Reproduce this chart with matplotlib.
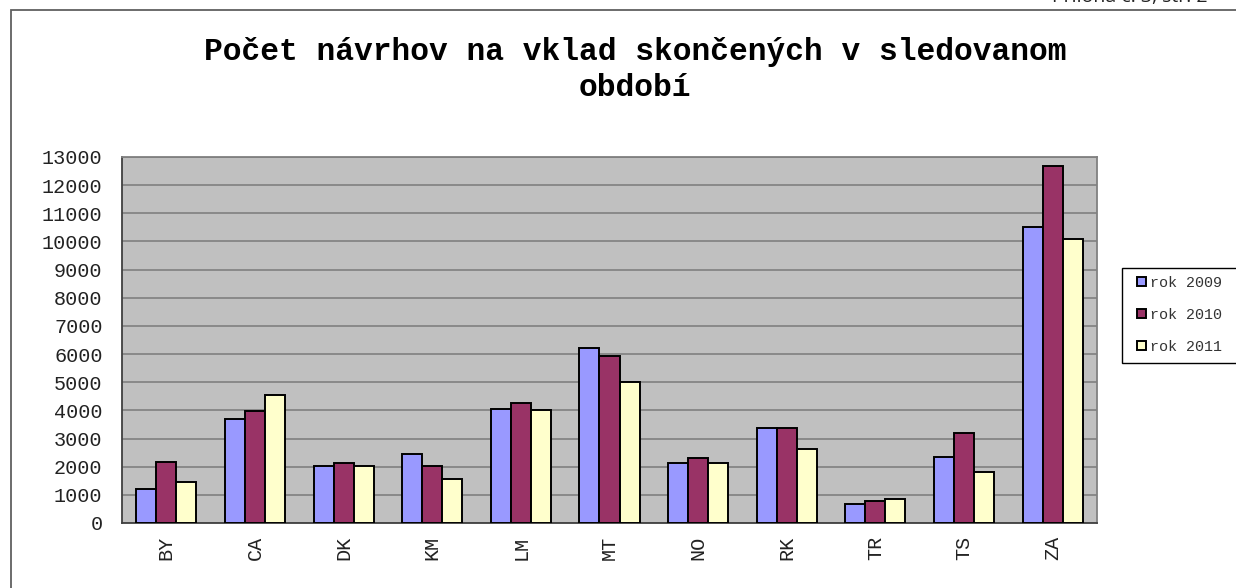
import matplotlib
matplotlib.use("Agg")
import matplotlib.pyplot as plt
import numpy as np
from matplotlib.patches import Rectangle

categories = ["BY", "CA", "DK", "KM", "LM", "MT", "NO", "RK", "TR", "TS", "ZA"]
rok_2009 = [1200, 3680, 2020, 2450, 4040, 6220, 2140, 3370, 680, 2350, 10500]
rok_2010 = [2180, 3980, 2140, 2020, 4260, 5930, 2300, 3390, 790, 3210, 12680]
rok_2011 = [1470, 4540, 2020, 1550, 4000, 5000, 2140, 2620, 860, 1810, 10070]
series_names = ["rok 2009", "rok 2010", "rok 2011"]
colors = ["#9999FF", "#993366", "#FFFFCC"]
yticks = list(range(0, 13001, 1000))
title = "Počet návrhov na vklad skončených v sledovanom\nobdobí"
header = "Príloha č. 3, str. 2"

W, H = 1236, 588
fig = plt.figure(figsize=(W / 100, H / 100), dpi=100)
fig.patch.set_facecolor("white")

# outer chart border
fig.patches.append(Rectangle((11 / W, 0 - 0.1), 1.2, 1 - 10 / H + 0.1,
                             transform=fig.transFigure, fill=False,
                             edgecolor="#606060", linewidth=1.3, clip_on=False))

fig.text(1208 / W, 1 + 3 / H, header, ha="right", va="center",
         fontsize=14, family="Open Sans", color="#222222")

ax = fig.add_axes([122 / W, (H - 523) / H, 975 / W, 366 / H])
ax.set_facecolor("#C0C0C0")

x = np.arange(len(categories))
bw = 0.226
for i, (vals, name, c) in enumerate(zip([rok_2009, rok_2010, rok_2011], series_names, colors)):
    ax.bar(x + (i - 1) * bw, vals, width=bw, color=c, edgecolor="black",
           linewidth=1.4, label=name, zorder=3)

ax.set_xlim(-0.5, len(categories) - 0.5)
ax.set_ylim(0, 13000)
ax.set_yticks(yticks)
ax.set_yticklabels([str(v) for v in yticks], family="Liberation Mono", fontsize=14.5, color="#222222")
ax.set_xticks(x)
ax.set_xticklabels(categories, rotation=90, family="Liberation Mono", fontsize=14.5, color="#222222")
ax.tick_params(axis="y", length=0, pad=14)
ax.tick_params(axis="x", length=0, pad=9)
ax.yaxis.grid(True, color="#808080", linewidth=1.2, zorder=1)
ax.set_axisbelow(True)
for s in ["left", "bottom"]:
    ax.spines[s].set_color("#404040")
    ax.spines[s].set_linewidth(1.3)
for s in ["top", "right"]:
    ax.spines[s].set_color("#808080")
    ax.spines[s].set_linewidth(1.3)

fig.text(635 / W, 1 - 70 / H, title, ha="center", va="center", fontsize=22.5,
         fontweight="bold", family="Liberation Mono", linespacing=1.3)

# legend frame (extends past the right edge, as in the reference)
fig.patches.append(Rectangle((1122 / W, 1 - 363 / H), 140 / W, 95 / H,
                             transform=fig.transFigure, fill=True, facecolor="white",
                             edgecolor="black", linewidth=1.0, clip_on=False))

handles = [Rectangle((0, 0), 1, 1, facecolor=c, edgecolor="black", linewidth=1.4) for c in colors]
leg = fig.legend(handles, series_names, loc="upper left",
                 bbox_to_anchor=(1137 / W, 1 - 276 / H),
                 prop={"family": "Liberation Mono", "size": 10.8},
                 handlelength=0.6, handleheight=0.6, handletextpad=0.3,
                 labelspacing=1.2, borderpad=0.0, borderaxespad=0,
                 fancybox=False, frameon=False)
for t in leg.get_texts():
    t.set_color("#333333")

fig.savefig("out.png", dpi=100)
